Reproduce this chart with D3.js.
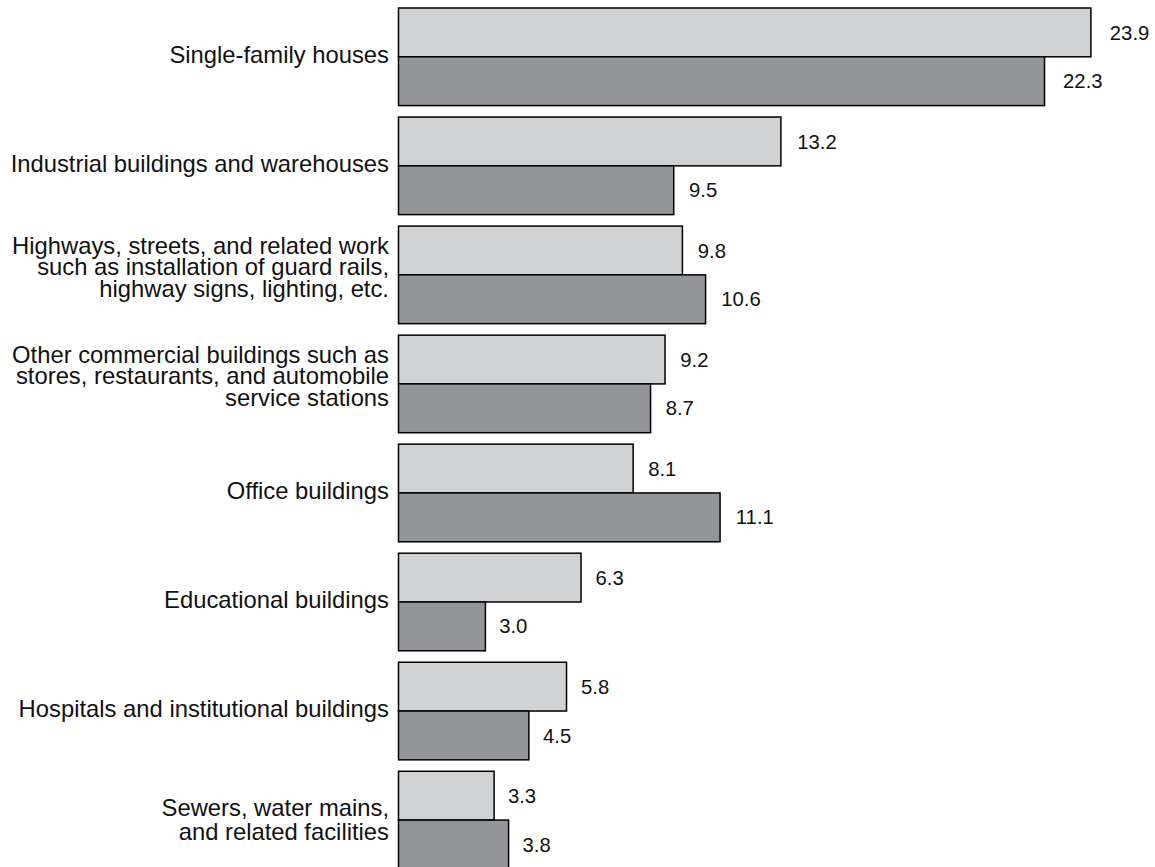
<!DOCTYPE html>
<html>
<head>
<meta charset="utf-8">
<script src="https://cdn.jsdelivr.net/npm/d3@7"></script>
<style>
  html, body { margin: 0; padding: 0; background: #fff; overflow: hidden; }
  svg { display: block; font-family: "Liberation Sans", Arial, Helvetica, sans-serif; }
  .cat-label { font-size: 23.8px; fill: #111; }
  .val-label { font-size: 20.3px; fill: #111; }
</style>
</head>
<body>
<svg id="chart"></svg>
<script>
"use strict";

/* ── Data ─────────────────────────────────────────────── */
const CATEGORY_LINES = [
  ["Single-family houses"],
  ["Industrial buildings and warehouses"],
  ["Highways, streets, and related work", "such as installation of guard rails,", "highway signs, lighting, etc."],
  ["Other commercial buildings such as", "stores, restaurants, and automobile", "service stations"],
  ["Office buildings"],
  ["Educational buildings"],
  ["Hospitals and institutional buildings"],
  ["Sewers, water mains,", "and related facilities"],
];
const SERIES = ["Earlier period", "Later period"];
const VALUES_EARLIER = [23.9, 13.2, 9.8, 9.2, 8.1, 6.3, 5.8, 3.3];
const VALUES_LATER   = [22.3, 9.5, 10.6, 8.7, 11.1, 3.0, 4.5, 3.8];

const COLORS = { "Earlier period": "#d1d2d4", "Later period": "#939598" };

/* ── Layout ───────────────────────────────────────────── */
const W = 1155, H = 880;
const X0 = 398.5;          // bar baseline
const PX_PER_UNIT = 28.97;
// line spacing / baseline shift per number of label lines (as in the original)
const LINE_GAP = { 1: 0, 2: 24, 3: 21.5 };
const BASE_OFF = { 1: 6, 2: 7.5, 3: 0.5 };

const categories = CATEGORY_LINES.map((l) => l.join(" "));
const rows = categories.map((c, i) => ({
  cat: c,
  lines: CATEGORY_LINES[i],
  vals: [
    { series: SERIES[0], v: VALUES_EARLIER[i] },
    { series: SERIES[1], v: VALUES_LATER[i] },
  ],
}));

const svg = d3.select("#chart").attr("width", W).attr("height", H);

const x = d3.scaleLinear().domain([0, 25]).range([X0, X0 + 25 * PX_PER_UNIT]);

const step = 109.04;
const y = d3.scaleBand()
  .domain(categories)
  .range([8 - 0.0525 * step, 8 - 0.0525 * step + categories.length * step])
  .paddingInner(0.105)
  .paddingOuter(0.0525);

const ySub = d3.scaleBand().domain(SERIES).range([0, y.bandwidth()]);

const groups = svg.selectAll(".grp")
  .data(rows)
  .join("g")
  .attr("class", "grp")
  .attr("transform", (d) => `translate(0,${y(d.cat)})`);

/* bars */
groups.selectAll("rect")
  .data((d) => d.vals)
  .join("rect")
  .attr("x", x(0))
  .attr("y", (d) => ySub(d.series))
  .attr("width", (d) => x(d.v) - x(0))
  .attr("height", ySub.bandwidth())
  .attr("fill", (d) => COLORS[d.series])
  .attr("stroke", "#000")
  .attr("stroke-width", 1.5);

/* value labels */
groups.selectAll(".val-label")
  .data((d) => d.vals)
  .join("text")
  .attr("class", "val-label")
  .attr("x", (d) => x(d.v) + 13 + 0.25 * d.v)
  .attr("y", (d) => ySub(d.series) + ySub.bandwidth() / 2)
  .attr("dy", "0.35em")
  .text((d) => d3.format(".1f")(d.v));

/* category labels */
groups.append("text")
  .attr("class", "cat-label")
  .attr("text-anchor", "end")
  .each(function (d) {
    const n = d.lines.length;
    const gap = LINE_GAP[n];
    const mid = y.bandwidth() / 2;
    const t = d3.select(this);
    d.lines.forEach((line, i) => {
      t.append("tspan")
        .attr("x", 389)
        .attr("y", mid - ((n - 1) / 2) * gap + BASE_OFF[n] + i * gap)
        .text(line);
    });
  });
</script>
</body>
</html>
